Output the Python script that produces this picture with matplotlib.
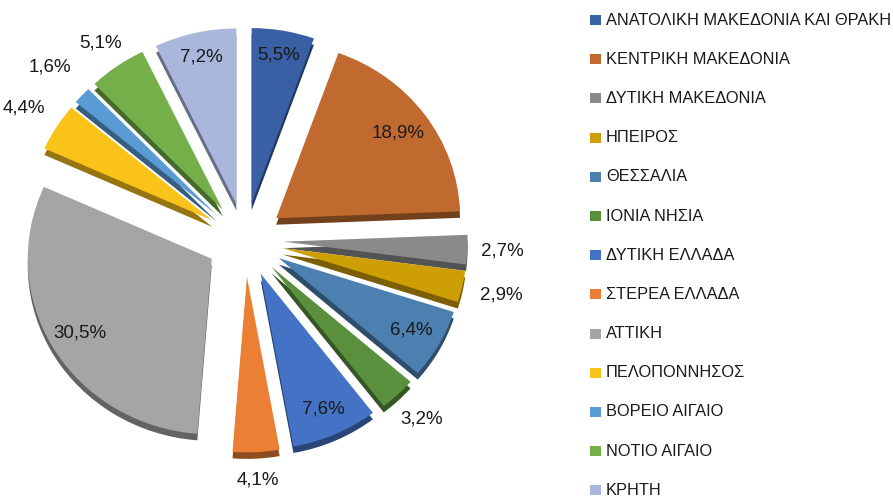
import matplotlib
matplotlib.use('Agg')
import matplotlib.pyplot as plt
from matplotlib.patches import Rectangle
from matplotlib.colors import to_rgb
import numpy as np

plt.rcParams['font.family'] = ['Liberation Sans', 'DejaVu Sans']

regions = ['ΑΝΑΤΟΛΙΚΗ ΜΑΚΕΔΟΝΙΑ ΚΑΙ ΘΡΑΚΗ', 'ΚΕΝΤΡΙΚΗ ΜΑΚΕΔΟΝΙΑ', 'ΔΥΤΙΚΗ ΜΑΚΕΔΟΝΙΑ',
           'ΗΠΕΙΡΟΣ', 'ΘΕΣΣΑΛΙΑ', 'ΙΟΝΙΑ ΝΗΣΙΑ', 'ΔΥΤΙΚΗ ΕΛΛΑΔΑ', 'ΣΤΕΡΕΑ ΕΛΛΑΔΑ',
           'ΑΤΤΙΚΗ', 'ΠΕΛΟΠΟΝΝΗΣΟΣ', 'ΒΟΡΕΙΟ ΑΙΓΑΙΟ', 'ΝΟΤΙΟ ΑΙΓΑΙΟ', 'ΚΡΗΤΗ']
shares = [5.5, 18.9, 2.7, 2.9, 6.4, 3.2, 7.6, 4.1, 30.5, 4.4, 1.6, 5.1, 7.2]
colors = ['#395FA4', '#C06A2F', '#8A8A8A', '#CE9F05', '#4C80B0', '#5A8F3E', '#4472C4',
          '#EB8034', '#A5A5A5', '#FAC31A', '#5B9BD5', '#75AF4A', '#A8B7DB']

# label distance beyond slice apex (radius units)
label_dist = [0.86, 0.82, 1.19, 1.22, 0.83, 1.19, 0.84, 1.16, 0.83, 1.21, 1.24, 1.16, 0.86]

W, H = 893, 498
fig = plt.figure(figsize=(W / 100, H / 100), dpi=100)
cx, cy, half = 245, 258, 230
ax = fig.add_axes([(cx - half) / W, (cy - half) / H, 2 * half / W, 2 * half / H])

explode = [0.21] * len(shares)
dark = [tuple(c * 0.6 for c in to_rgb(col)) for col in colors]

ax.pie(shares, colors=dark, explode=explode, startangle=90, counterclock=False,
       center=(0, -0.037), wedgeprops=dict(linewidth=0))
wedges, _ = ax.pie(shares, colors=colors, explode=explode, startangle=90, counterclock=False,
                   wedgeprops=dict(linewidth=0))

for w, v, d in zip(wedges, shares, label_dist):
    mid = np.deg2rad((w.theta1 + w.theta2) / 2)
    x0, y0 = w.center
    ax.text(x0 + d * np.cos(mid), y0 + d * np.sin(mid),
            f"{v:.1f}".replace('.', ',') + '%', ha='center', va='center',
            fontsize=13.5, color='#1a1a1a')

ax.set_aspect('auto')
ax.set_xlim(-1.25, 1.25)
ax.set_ylim(-1.31, 1.31)
ax.axis('off')

# legend
for i, (name, col) in enumerate(zip(regions, colors)):
    ypx = 20 + i * 39.2
    fig.add_artist(Rectangle((590 / W, 1 - (ypx + 5) / H), 11 / W, 10 / H,
                             transform=fig.transFigure, facecolor=col, edgecolor='none'))
    fig.text(606 / W, 1 - ypx / H, name, ha='left', va='center', fontsize=11.8,
             color='#1a1a1a')

fig.savefig('out.png', dpi=100)
